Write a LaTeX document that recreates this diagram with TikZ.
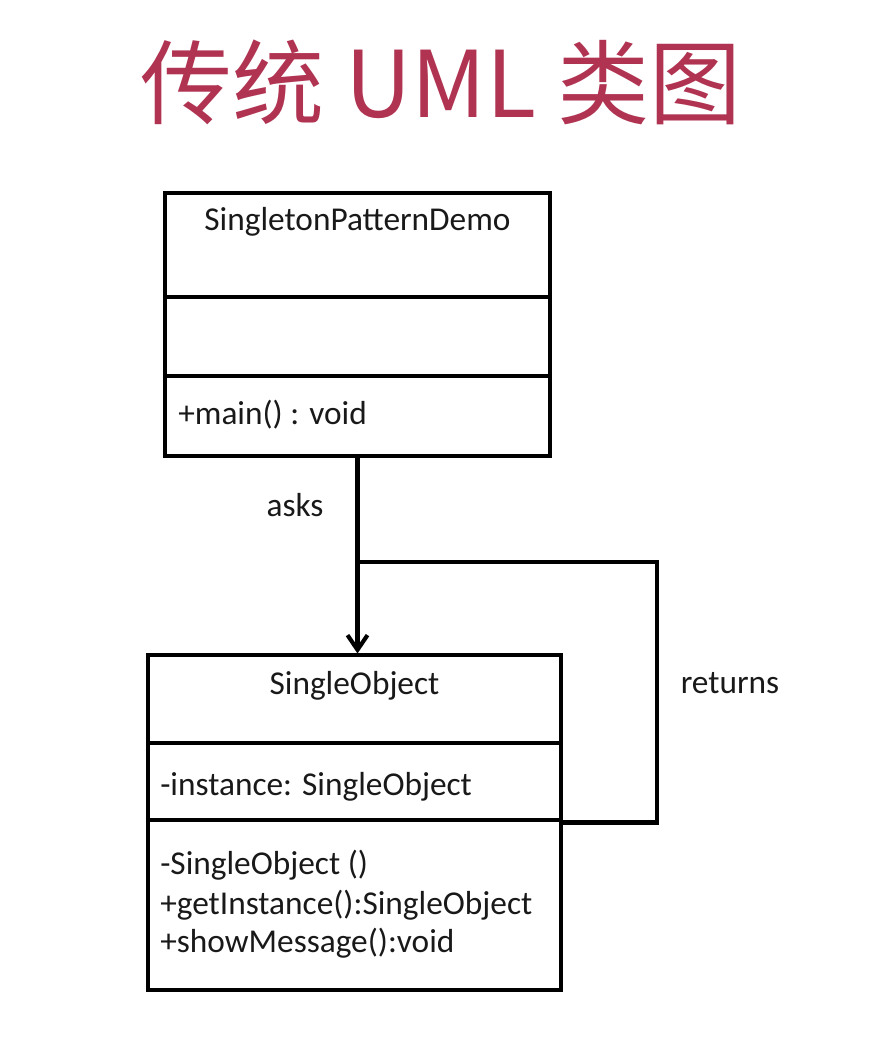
\documentclass[tikz,border=0pt]{standalone}
\usepackage{fontspec}
\setmainfont{Carlito}
\newfontfamily\cjk{Noto Sans CJK SC}
\usetikzlibrary{arrows.meta}
\definecolor{titlered}{RGB}{176,52,82}
\definecolor{ink}{RGB}{25,25,25}
\tikzset{
	classbox/.style={draw, line width=2.3pt, inner sep=0pt},
	member/.style={anchor=west, font=\fontsize{25}{28}\selectfont, text=ink, inner sep=0pt},
	link/.style={line width=3.1pt}
}
\begin{document}
\begin{tikzpicture}[x=0.75pt, y=-0.75pt]
			\useasboundingbox (0, 0) rectangle (874, 1056);
			\node[text=titlered, font=\cjk\fontsize{69}{72}\selectfont] (title) at (441, 82) {传统 UML 类图};

			% SingletonPatternDemo
			\node[classbox, minimum width=288.75pt, minimum height=197.25pt] (demo) at (357.5, 324.5) {};
			\draw[line width=2.3pt]	(demo.west |- 0, 297) -- (demo.east |- 0, 297)
									(demo.west |- 0, 376) -- (demo.east |- 0, 376);
			\node[member, anchor=center] (demoname) at (357.5, 222) {SingletonPatternDemo};
			\node[member] (main) at (178, 415) {+main() : void};

			% SingleObject
			\node[classbox, minimum width=309.75pt, minimum height=251.25pt] (single) at (354.5, 822.5) {};
			\draw[line width=2.3pt]	(single.west |- 0, 743) -- (single.east |- 0, 743)
									(single.west |- 0, 820) -- (single.east |- 0, 820);
			\node[member, anchor=center] (singlename) at (354.5, 686) {SingleObject};
			\node[member] (instance) at (160, 787) {-instance: SingleObject};
			\node[member] (ctor) at (160, 865) {-SingleObject ()};
			\node[member] (getinst) at (160, 905) {+getInstance():SingleObject};
			\node[member] (show) at (160, 943) {+showMessage():void};

			\coordinate (join) at (357, 562);
			\coordinate (corner) at (657, 562);
			\draw[link, -{Straight Barb[length=11pt, width=15pt]}]	(demo.south) to node[pos=0.24, left=24pt, member, anchor=east]{asks} (demo.south |- single.north);
			\draw[link]	(single.east) -| (corner) -- (join);
			\node[member, anchor=center] (returns) at (730, 683) {returns};
		\end{tikzpicture}
\end{document}
